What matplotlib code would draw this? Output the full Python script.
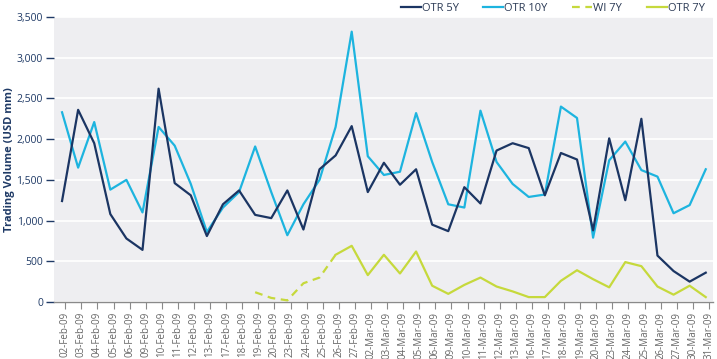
import matplotlib
matplotlib.use("Agg")
import matplotlib.pyplot as plt
import numpy as np

dates = ["02-Feb-09", "03-Feb-09", "04-Feb-09", "05-Feb-09", "06-Feb-09", "09-Feb-09",
         "10-Feb-09", "11-Feb-09", "12-Feb-09", "13-Feb-09", "17-Feb-09", "18-Feb-09",
         "19-Feb-09", "20-Feb-09", "23-Feb-09", "24-Feb-09", "25-Feb-09", "26-Feb-09",
         "27-Feb-09", "02-Mar-09", "03-Mar-09", "04-Mar-09", "05-Mar-09", "06-Mar-09",
         "09-Mar-09", "10-Mar-09", "11-Mar-09", "12-Mar-09", "13-Mar-09", "16-Mar-09",
         "17-Mar-09", "18-Mar-09", "19-Mar-09", "20-Mar-09", "23-Mar-09", "24-Mar-09",
         "25-Mar-09", "26-Mar-09", "27-Mar-09", "30-Mar-09", "31-Mar-09"]

otr_5y = [1240, 2360, 1950, 1080, 780, 640, 2620, 1460, 1310, 810,
          1200, 1370, 1070, 1030, 1370, 890, 1630, 1800, 2160, 1350,
          1710, 1440, 1630, 950, 870, 1410, 1210, 1860, 1950, 1890,
          1310, 1830, 1750, 880, 2010, 1250, 2250, 570, 380, 250, 360]

otr_10y = [2330, 1650, 2210, 1380, 1500, 1100, 2150, 1920, 1450, 860,
           1160, 1350, 1910, 1350, 820, 1200, 1500, 2150, 3320, 1790,
           1560, 1600, 2320, 1720, 1200, 1160, 2350, 1720, 1450, 1290,
           1320, 2400, 2260, 790, 1740, 1970, 1620, 1540, 1090, 1190, 1630]

# WI 7Y: 19-Feb-09 .. 26-Feb-09
wi_7y_start = 12
wi_7y = [120, 50, 20, 230, 300, 580]

# OTR 7Y: 26-Feb-09 .. 31-Mar-09
otr_7y_start = 17
otr_7y = [580, 690, 330, 580, 350, 620, 200, 100, 210, 300, 190, 130, 60, 60,
          260, 390, 280, 180, 490, 440, 190, 90, 200, 60]

C_5Y = "#1b3563"
C_10Y = "#1db4df"
C_7Y = "#c6d93c"
NAVY = "#1f3a66"
GRAY = "#666666"

plt.rcParams["font.family"] = ["Open Sans", "DejaVu Sans"]

fig = plt.figure(figsize=(7.17, 3.59), dpi=100)
ax = fig.add_axes([0.0753, 0.1588, 0.9944 - 0.0753, 0.9526 - 0.1588])
ax.set_facecolor("#eeeef1")

x = np.arange(len(dates))
lw = 1.6
ax.plot(x, otr_5y, color=C_5Y, lw=lw, label="OTR 5Y", zorder=4)
ax.plot(x, otr_10y, color=C_10Y, lw=lw, label="OTR 10Y", zorder=3)
ax.plot(x[wi_7y_start:wi_7y_start + len(wi_7y)], wi_7y, color=C_7Y, lw=lw,
        ls=(0, (3.5, 2.5)), label="WI 7Y", zorder=2)
ax.plot(x[otr_7y_start:otr_7y_start + len(otr_7y)], otr_7y, color=C_7Y, lw=lw,
        label="OTR 7Y", zorder=2)

ax.set_ylim(0, 3500)
ax.set_yticks(np.arange(0, 3501, 500))
ax.set_yticklabels([f"{v:,}" for v in range(0, 3501, 500)])
ax.set_xlim(-0.5, 40.45)
ax.set_xticks(x + 0.2)
ax.set_xticklabels(dates, rotation=90)

ax.grid(axis="y", color="white", lw=1.2)
ax.set_axisbelow(True)
for s in ["top", "right", "left"]:
    ax.spines[s].set_visible(False)
ax.spines["bottom"].set_color("#8a8a8a")
ax.spines["bottom"].set_linewidth(1.0)

ax.tick_params(axis="y", colors=NAVY, labelsize=7.5, length=6, width=1.0, pad=2)
ax.tick_params(axis="x", colors="#8a8a8a", labelcolor=GRAY, labelsize=7,
               length=5, width=0.8, pad=2)

ax.set_ylabel("Trading Volume (USD mm)", color=NAVY, fontsize=8, fontweight="bold")
ax.yaxis.set_label_coords(-0.059, 0.5)

fig.legend(loc="upper right", bbox_to_anchor=(0.997, 1.02), ncol=4, frameon=False,
           fontsize=8, handlelength=1.8, columnspacing=2.2, handletextpad=0.1,
           labelcolor="#2b3a55")

fig.savefig("out.png", dpi=100)
